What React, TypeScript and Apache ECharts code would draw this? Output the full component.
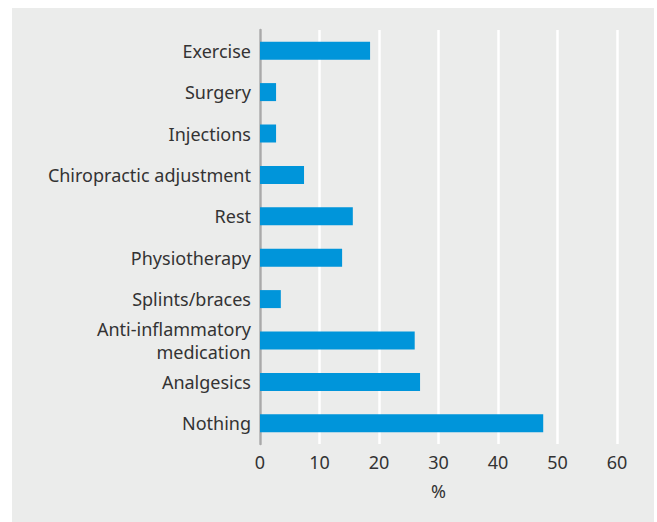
import React, { useEffect, useRef } from "react";
import * as echarts from "echarts";

const categories = [
  "Exercise",
  "Surgery",
  "Injections",
  "Chiropractic adjustment",
  "Rest",
  "Physiotherapy",
  "Splints/braces",
  "Anti-inflammatory\nmedication",
  "Analgesics",
  "Nothing",
];
const values = [18.5, 2.7, 2.7, 7.4, 15.6, 13.8, 3.5, 26.0, 26.9, 47.6];
const xTicks = [0, 10, 20, 30, 40, 50, 60];
const axisName = "%";

export default function App() {
  const ref = useRef<HTMLDivElement>(null);
  useEffect(() => {
    if (!ref.current) return;
    const chart = echarts.init(ref.current, null, { renderer: "svg" });
    const font = "'Noto Sans', sans-serif";
    chart.setOption({
      animation: false,
      backgroundColor: "#ffffff",
      graphic: [
        {
          type: "rect",
          z: -10,
          silent: true,
          shape: { x: 12, y: 8, width: 642, height: 514 },
          style: { fill: "#ebeceb" },
        },
      ],
      grid: { left: 260, right: 40, top: 30, bottom: 78, containLabel: false },
      xAxis: {
        type: "value",
        min: xTicks[0],
        max: xTicks[xTicks.length - 1],
        interval: 10,
        name: axisName,
        nameLocation: "middle",
        nameGap: 38,
        nameTextStyle: { fontFamily: font, fontSize: 18, color: "#333" },
        axisLine: { show: false },
        axisTick: { show: false },
        axisLabel: { fontFamily: font, fontSize: 18, color: "#333", margin: 9 },
        splitLine: { show: true, lineStyle: { color: "#ffffff", width: 2.5 } },
      },
      yAxis: {
        type: "category",
        data: categories,
        inverse: true,
        axisLine: { show: true, lineStyle: { color: "#a9a9a9", width: 2.5 } },
        axisTick: { show: false },
        axisLabel: {
          fontFamily: font,
          fontSize: 18,
          color: "#333",
          margin: 9,
          lineHeight: 23,
        },
        splitLine: { show: false },
      },
      series: [
        {
          type: "bar",
          data: values,
          barWidth: 18,
          itemStyle: { color: "#0095da" },
          z: 3,
        },
      ],
    });
    return () => chart.dispose();
  }, []);
  return (
    <div
      ref={ref}
      style={{ position: "absolute", left: 0, top: 0, width: 657, height: 522 }}
    />
  );
}
